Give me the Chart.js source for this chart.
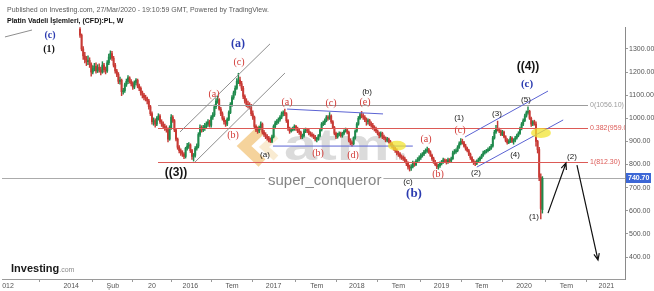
<!DOCTYPE html>
<html>
<head>
<meta charset="utf-8">
<script src="https://cdn.jsdelivr.net/npm/chart.js@4.4.0/dist/chart.umd.min.js"></script>
<style>
  html, body { margin: 0; padding: 0; background: #fff; }
  #wrap { width: 654px; height: 291px; }
</style>
</head>
<body>
<div id="wrap"><canvas id="chart" width="654" height="291"></canvas></div>
<script>
// Weekly candles, index 0 = week of 8 Sep 2014, last = week of 23 Mar 2020
const opens = [
  1385,1360,1300,1270,1255,1245,1250,1235,1200,1215,
  1225,1205,1220,1210,1200,1230,1210,1205,1240,1265,
  1280,1260,1230,1205,1190,1160,1165,1115,1120,1145,
  1160,1175,1160,1150,1135,1155,1165,1140,1130,1110,
  1100,1090,1085,1075,1050,1020,985,990,975,1000,
  1010,985,975,965,960,950,910,960,1005,990,
  950,910,875,860,850,845,835,870,880,885,
  860,835,840,870,880,930,960,950,960,965,
  975,985,970,1005,1015,1050,1075,1080,1040,1020,
  1000,985,975,995,1025,1060,1090,1110,1130,1160,
  1165,1150,1130,1095,1075,1060,1055,1050,1020,1005,
  965,950,945,960,975,940,930,920,915,905,
  900,920,965,980,985,995,1005,1020,1025,1020,
  990,955,945,950,955,965,955,945,940,920,
  925,945,950,945,935,930,925,920,910,910,
  925,950,975,980,990,1005,1000,1010,985,960,
  935,920,930,935,925,935,945,950,940,905,
  895,890,915,945,975,1000,1015,1010,1005,995,
  985,990,975,970,960,955,945,935,925,935,
  920,915,905,910,900,890,880,870,860,850,
  845,835,830,825,815,805,790,785,790,805,
  800,815,820,830,840,845,855,860,865,855,
  840,825,810,800,790,795,805,810,820,815,
  810,820,815,825,850,855,860,875,890,900,
  895,880,870,860,845,830,815,810,805,815,
  820,830,840,850,855,860,865,870,880,915,
  940,955,950,945,930,940,920,905,895,900,
  915,900,905,915,925,935,955,975,990,1010,
  1025,1030,1000,975,985,975,900,865,745,605
];
const highs = [
  1392,1365,1310,1285,1268,1270,1262,1240,1228,1238,
  1240,1232,1236,1222,1245,1238,1222,1250,1278,1292,
  1290,1268,1238,1212,1198,1178,1170,1130,1152,1170,
  1185,1180,1168,1158,1162,1172,1170,1148,1136,1118,
  1108,1100,1092,1082,1056,1028,1002,998,1008,1020,
  1016,994,985,975,968,958,968,1016,1012,995,
  956,915,882,868,860,852,875,892,895,890,
  866,848,878,890,938,972,968,970,978,985,
  995,992,1012,1025,1058,1085,1095,1085,1048,1028,
  1008,992,1002,1032,1068,1098,1118,1140,1172,1195,
  1178,1160,1138,1102,1085,1075,1068,1060,1032,1010,
  972,962,966,985,980,948,938,930,922,915,
  928,972,988,995,1002,1012,1028,1032,1040,1025,
  995,962,958,962,972,970,962,952,945,932,
  952,958,956,952,942,938,932,926,918,930,
  956,982,988,998,1012,1012,1025,1015,990,965,
  940,936,942,940,940,950,958,955,945,912,
  902,920,950,982,1008,1022,1030,1020,1012,1002,
  998,996,985,978,968,962,950,940,942,940,
  928,920,918,915,905,895,885,876,868,858,
  852,842,838,832,822,812,798,800,815,812,
  822,830,838,848,852,862,868,876,870,860,
  845,832,818,808,802,812,818,828,825,822,
  828,826,832,858,865,868,882,898,912,910,
  900,888,876,866,850,835,822,815,820,828,
  835,845,858,862,866,872,878,888,922,948,
  970,988,958,950,948,945,925,912,908,922,
  920,912,922,932,942,962,982,998,1018,1032,
  1050,1035,1005,990,992,985,905,875,760,748
];
const lows = [
  1350,1292,1255,1240,1228,1232,1220,1182,1192,1205,
  1195,1198,1200,1188,1195,1200,1192,1198,1232,1255,
  1250,1222,1195,1180,1150,1148,1098,1105,1112,1138,
  1150,1152,1140,1125,1128,1145,1132,1120,1100,1088,
  1080,1075,1062,1040,1012,975,970,962,968,992,
  978,965,955,948,940,898,905,952,982,942,
  902,866,850,840,835,825,828,862,870,852,
  822,815,832,862,872,922,940,942,948,958,
  965,962,962,995,1008,1042,1065,1035,1012,992,
  975,965,968,990,1020,1052,1082,1100,1125,1150,
  1140,1120,1085,1065,1050,1045,1040,1012,995,955,
  942,935,938,952,932,922,912,905,898,895,
  895,915,958,972,978,988,998,1010,1012,982,
  948,935,940,945,948,948,938,930,912,912,
  918,938,938,928,922,918,912,902,898,905,
  920,945,968,972,985,992,995,978,955,928,
  912,914,924,918,918,928,940,932,898,885,
  880,885,910,940,970,995,1002,995,985,970,
  975,968,962,952,945,938,928,915,918,912,
  908,898,898,892,882,872,862,852,842,835,
  828,822,818,808,795,780,772,775,785,792,
  795,808,815,822,832,838,848,852,848,835,
  818,805,795,782,780,788,798,805,808,802,
  805,810,810,822,845,848,855,870,885,888,
  875,862,855,838,822,808,800,795,800,810,
  815,825,835,845,850,855,860,865,875,910,
  935,945,938,925,925,915,898,888,890,895,
  895,888,898,910,920,930,950,968,985,1005,
  1018,995,965,968,970,880,850,730,565,590
];
const closes = [
  1360,1300,1270,1255,1245,1250,1235,1200,1215,1225,
  1205,1220,1210,1200,1230,1210,1205,1240,1265,1280,
  1260,1230,1205,1190,1160,1165,1115,1120,1145,1160,
  1175,1160,1150,1135,1155,1165,1140,1130,1110,1100,
  1090,1085,1075,1050,1020,985,990,975,1000,1010,
  985,975,965,960,950,910,960,1005,990,950,
  910,875,860,850,845,835,870,880,885,860,
  835,840,870,880,930,960,950,960,965,975,
  985,970,1005,1015,1050,1075,1080,1040,1020,1000,
  985,975,995,1025,1060,1090,1110,1130,1160,1165,
  1150,1130,1095,1075,1060,1055,1050,1020,1005,965,
  950,945,960,975,940,930,920,915,905,900,
  920,965,980,985,995,1005,1020,1025,1020,990,
  955,945,950,955,965,955,945,940,920,925,
  945,950,945,935,930,925,920,910,910,925,
  950,975,980,990,1005,1000,1010,985,960,935,
  920,930,935,925,935,945,950,940,905,895,
  890,915,945,975,1000,1015,1010,1005,995,985,
  990,975,970,960,955,945,935,925,935,920,
  915,905,910,900,890,880,870,860,850,845,
  835,830,825,815,805,790,785,790,805,800,
  815,820,830,840,845,855,860,865,855,840,
  825,810,800,790,795,805,810,820,815,810,
  820,815,825,850,855,860,875,890,900,895,
  880,870,860,845,830,815,810,805,815,820,
  830,840,850,855,860,865,870,880,915,940,
  955,950,945,930,940,920,905,895,900,915,
  900,905,915,925,935,955,975,990,1010,1025,
  1030,1000,975,985,975,900,865,745,610,740.7
];

// axes
const yTicks = [400, 500, 600, 700, 800, 900, 1000, 1100, 1200, 1300];
const xTickPos = [-45, -5.5, 20.5, 45, 69, 95, 121, 148, 173, 199, 226, 251, 277.5, 304, 329];
const xTickLabels = ['012', '2014', 'Şub', '20', '2016', 'Tem', '2017', 'Tem', '2018', 'Tem', '2019', 'Tem', '2020', 'Tem', '2021'];
const lastPrice = 740.70;

// fibonacci levels
const fibValues = [1056.10, 959.00, 812.30];
const fibTexts = ['0(1056.10)', '0.382(959.00)', '1(812.30)'];
const fibColors = ['#9c9c9c', '#dc5a56', '#dc5a56'];

const upColor = '#1f8a4c';
const downColor = '#c83a35';
const red = '#d23a36';
const blue = '#2b3bb0';
const black = '#151515';
const SANS = 'Arial, "Liberation Sans", sans-serif';
const SERIF = '"Liberation Serif", "Times New Roman", serif';

// drawings in chart units: [x1, y1, x2, y2]
const grayLines = [
  [62.5, 941, 118.75, 1322],
  [71.9, 811, 128.1, 1196],
  [-46.9, 1352, -30, 1382]
];
const blueLines = [
  [129.4, 1040, 189.4, 1019],
  [120.6, 880, 208, 880],
  [240.6, 919, 292.5, 1118],
  [248, 789, 302, 993]
];
const arrows = [
  [292.5, 590, 303.75, 807],
  [310.6, 798, 323.75, 387]
];
const marks = [[198.1, 881, 9, 5], [288.1, 937, 10, 5]];

const waveLabels = [
  [-18.75, 1360, '(c)', blue, 'bold 10px ' + SERIF],
  [-19.4, 1296, '(1)', black, 'bold 10px ' + SERIF],
  [98.75, 1322, '(a)', blue, 'bold 12px ' + SERIF],
  [99.4, 1244, '(c)', red, '10px ' + SERIF],
  [83.75, 1105, '(a)', red, '10px ' + SERIF],
  [95.6, 928, '(b)', red, '10px ' + SERIF],
  [129.4, 1071, '(a)', red, '10px ' + SERIF],
  [115.6, 841, '(a)', black, '8px ' + SANS],
  [148.75, 850, '(b)', red, '10px ' + SERIF],
  [60, 763, '((3))', black, 'bold 12px ' + SANS],
  [156.9, 1066, '(c)', red, '10px ' + SERIF],
  [178.1, 1071, '(e)', red, '10px ' + SERIF],
  [179.4, 1114, '(b)', black, '8px ' + SANS],
  [170.6, 841, '(d)', red, '10px ' + SERIF],
  [216.25, 911, '(a)', red, '10px ' + SERIF],
  [236.9, 1001, '(1)', black, '8px ' + SANS],
  [237.5, 949, '(c)', red, '10px ' + SERIF],
  [260.6, 1019, '(3)', black, '8px ' + SANS],
  [278.75, 1079, '(5)', black, '8px ' + SANS],
  [279.4, 1149, '(c)', blue, 'bold 11px ' + SERIF],
  [280, 1222, '((4))', black, 'bold 12px ' + SANS],
  [271.9, 841, '(4)', black, '8px ' + SANS],
  [205, 724, '(c)', black, '8px ' + SANS],
  [208.75, 673, '(b)', blue, 'bold 13px ' + SERIF],
  [223.75, 759, '(b)', red, '10px ' + SERIF],
  [247.5, 763, '(2)', black, '8px ' + SANS],
  [283.75, 573, '(1)', black, '8px ' + SANS],
  [307.5, 833, '(2)', black, '8px ' + SANS]
];

function clipArea(ctx, a) {
  ctx.beginPath();
  ctx.rect(a.left, a.top, a.right - a.left, a.bottom - a.top);
  ctx.clip();
}

function drawArrow(ctx, x1, y1, x2, y2) {
  const ang = Math.atan2(y2 - y1, x2 - x1);
  ctx.beginPath();
  ctx.moveTo(x1, y1);
  ctx.lineTo(x2, y2);
  ctx.moveTo(x2 - 7 * Math.cos(ang - 0.4), y2 - 7 * Math.sin(ang - 0.4));
  ctx.lineTo(x2, y2);
  ctx.lineTo(x2 - 7 * Math.cos(ang + 0.4), y2 - 7 * Math.sin(ang + 0.4));
  ctx.stroke();
}

const overlay = {
  id: 'overlay',
  beforeDatasetsDraw(chart) {
    const { ctx, chartArea: a, scales: { y } } = chart;
    ctx.save();
    clipArea(ctx, a);

    // watermark logo
    ctx.lineCap = 'butt';
    ctx.lineJoin = 'miter';
    ctx.strokeStyle = 'rgba(236,168,58,0.5)';
    ctx.lineWidth = 10;
    ctx.beginPath(); ctx.moveTo(262, 129); ctx.lineTo(244, 146); ctx.lineTo(262, 163); ctx.stroke();
    ctx.strokeStyle = 'rgba(240,205,140,0.4)';
    ctx.lineWidth = 7;
    ctx.beginPath(); ctx.moveTo(276, 136); ctx.lineTo(264, 147); ctx.lineTo(276, 158); ctx.stroke();
    ctx.fillStyle = 'rgba(170,170,170,0.42)';
    ctx.font = 'bold 44px ' + SANS;
    ctx.textBaseline = 'alphabetic';
    ctx.save();
    ctx.translate(284, 160);
    ctx.scale(1.35, 1);
    ctx.fillText('atm', 0, 0);
    ctx.restore();
    ctx.font = 'bold 12px ' + SANS;
    ctx.fillText('in', 395, 160);

    // last price line
    const yp = Math.round(y.getPixelForValue(lastPrice)) + 0.5;
    ctx.strokeStyle = '#ababab';
    ctx.lineWidth = 1;
    ctx.beginPath(); ctx.moveTo(a.left, yp); ctx.lineTo(a.right, yp); ctx.stroke();

    // signature
    ctx.font = '15px ' + SANS;
    const w = ctx.measureText('super_conqueror').width;
    ctx.fillStyle = '#ffffff';
    ctx.fillRect(265, 172, w + 5, 18);
    ctx.fillStyle = '#858585';
    ctx.textBaseline = 'middle';
    ctx.fillText('super_conqueror', 268, 181);
    ctx.restore();
  },
  afterDatasetsDraw(chart) {
    const { ctx, chartArea: a, scales: { x, y } } = chart;
    const px = v => x.getPixelForValue(v);
    const py = v => y.getPixelForValue(v);
    ctx.save();
    clipArea(ctx, a);
    ctx.lineWidth = 1;

    // fibonacci retracement
    ctx.font = '7px ' + SANS;
    ctx.textBaseline = 'middle';
    ctx.textAlign = 'left';
    fibValues.forEach((v, k) => {
      const yy = Math.round(py(v)) + 0.5;
      ctx.strokeStyle = fibColors[k];
      ctx.beginPath(); ctx.moveTo(px(48.75), yy); ctx.lineTo(px(317.5), yy); ctx.stroke();
      ctx.fillStyle = fibColors[k];
      ctx.fillText(fibTexts[k], px(318.75), yy);
    });

    // channels
    ctx.strokeStyle = '#8e8e8e';
    grayLines.forEach(l => {
      ctx.beginPath(); ctx.moveTo(px(l[0]), py(l[1])); ctx.lineTo(px(l[2]), py(l[3])); ctx.stroke();
    });
    ctx.strokeStyle = '#5b63d3';
    blueLines.forEach(l => {
      ctx.beginPath(); ctx.moveTo(px(l[0]), py(l[1])); ctx.lineTo(px(l[2]), py(l[3])); ctx.stroke();
    });

    // highlight marks
    ctx.fillStyle = 'rgba(242,228,50,0.75)';
    marks.forEach(m => {
      ctx.beginPath(); ctx.ellipse(px(m[0]), py(m[1]), m[2], m[3], 0, 0, Math.PI * 2); ctx.fill();
    });

    // projection arrows
    ctx.strokeStyle = '#111';
    ctx.lineWidth = 1.2;
    arrows.forEach(l => drawArrow(ctx, px(l[0]), py(l[1]), px(l[2]), py(l[3])));

    // wave labels
    ctx.textAlign = 'center';
    ctx.textBaseline = 'middle';
    waveLabels.forEach(l => {
      ctx.font = l[4];
      ctx.fillStyle = l[3];
      ctx.fillText(l[2], px(l[0]), py(l[1]));
    });
    ctx.restore();
  },
  afterDraw(chart) {
    const { ctx, chartArea: a, scales: { y } } = chart;
    ctx.save();
    // header
    ctx.textAlign = 'left';
    ctx.textBaseline = 'alphabetic';
    ctx.fillStyle = '#5a5a5a';
    ctx.font = '7px ' + SANS;
    ctx.fillText('Published on Investing.com, 27/Mar/2020 - 19:10:59 GMT, Powered by TradingView.', 7, 12);
    ctx.fillStyle = '#111';
    ctx.font = 'bold 7px ' + SANS;
    ctx.fillText('Platin Vadeli İşlemleri, (CFD):PL, W', 7, 23);

    // Investing.com logo
    ctx.font = 'bold 11px ' + SANS;
    ctx.fillStyle = '#1a1a1a';
    ctx.fillText('Investing', 11, 272);
    const lw = ctx.measureText('Investing').width;
    ctx.font = '7px ' + SANS;
    ctx.fillStyle = '#8a8a8a';
    ctx.fillText('.com', 11 + lw, 272);

    // last price tag on the axis
    const yp = Math.round(y.getPixelForValue(lastPrice));
    ctx.fillStyle = '#3c67d6';
    ctx.fillRect(a.right + 1, yp - 5, 25, 10);
    ctx.fillStyle = '#fff';
    ctx.font = 'bold 7px ' + SANS;
    ctx.textBaseline = 'middle';
    ctx.fillText(lastPrice.toFixed(2), a.right + 3, yp);
    ctx.restore();
  }
};

const barColor = c => closes[c.dataIndex] >= opens[c.dataIndex] ? upColor : downColor;
const idx = closes.map((_, i) => i);

new Chart(document.getElementById('chart'), {
  type: 'bar',
  data: {
    datasets: [
      {
        label: 'body',
        data: idx.map(i => ({ x: i, y: [opens[i], closes[i]] })),
        backgroundColor: barColor,
        barThickness: 1.3,
        minBarLength: 1,
        grouped: false,
        order: 1
      },
      {
        label: 'wick',
        data: idx.map(i => ({ x: i, y: [lows[i], highs[i]] })),
        backgroundColor: barColor,
        barThickness: 0.8,
        grouped: false,
        order: 2
      }
    ]
  },
  options: {
    responsive: false,
    animation: false,
    devicePixelRatio: 1,
    layout: { padding: { left: 2, top: 27, right: 0, bottom: 0 } },
    plugins: { legend: { display: false }, tooltip: { enabled: false } },
    scales: {
      x: {
        type: 'linear',
        offset: false,
        min: -48.75,
        max: 340.625,
        grid: { display: true, drawOnChartArea: false, tickLength: 3, color: '#9a9a9a' },
        border: { display: true, color: '#9a9a9a' },
        ticks: {
          autoSkip: false,
          maxRotation: 0,
          minRotation: 0,
          padding: 0,
          color: '#555',
          font: { size: 7, family: SANS },
          callback: v => xTickLabels[xTickPos.indexOf(v)]
        },
        afterBuildTicks: s => { s.ticks = xTickPos.map(v => ({ value: v })); },
        afterFit: s => { s.height = 12; s.paddingLeft = 0; s.paddingRight = 0; }
      },
      y: {
        position: 'right',
        min: 305,
        max: 1395,
        grid: { display: true, drawOnChartArea: false, tickLength: 3, color: '#9a9a9a' },
        border: { display: true, color: '#8a8a8a' },
        ticks: {
          padding: 1,
          color: '#555',
          font: { size: 7, family: SANS },
          callback: v => v.toFixed(2)
        },
        afterBuildTicks: s => { s.ticks = yTicks.map(v => ({ value: v })); },
        afterFit: s => { s.width = 29; s.paddingTop = 0; s.paddingBottom = 0; }
      }
    }
  },
  plugins: [overlay]
});
</script>
</body>
</html>
